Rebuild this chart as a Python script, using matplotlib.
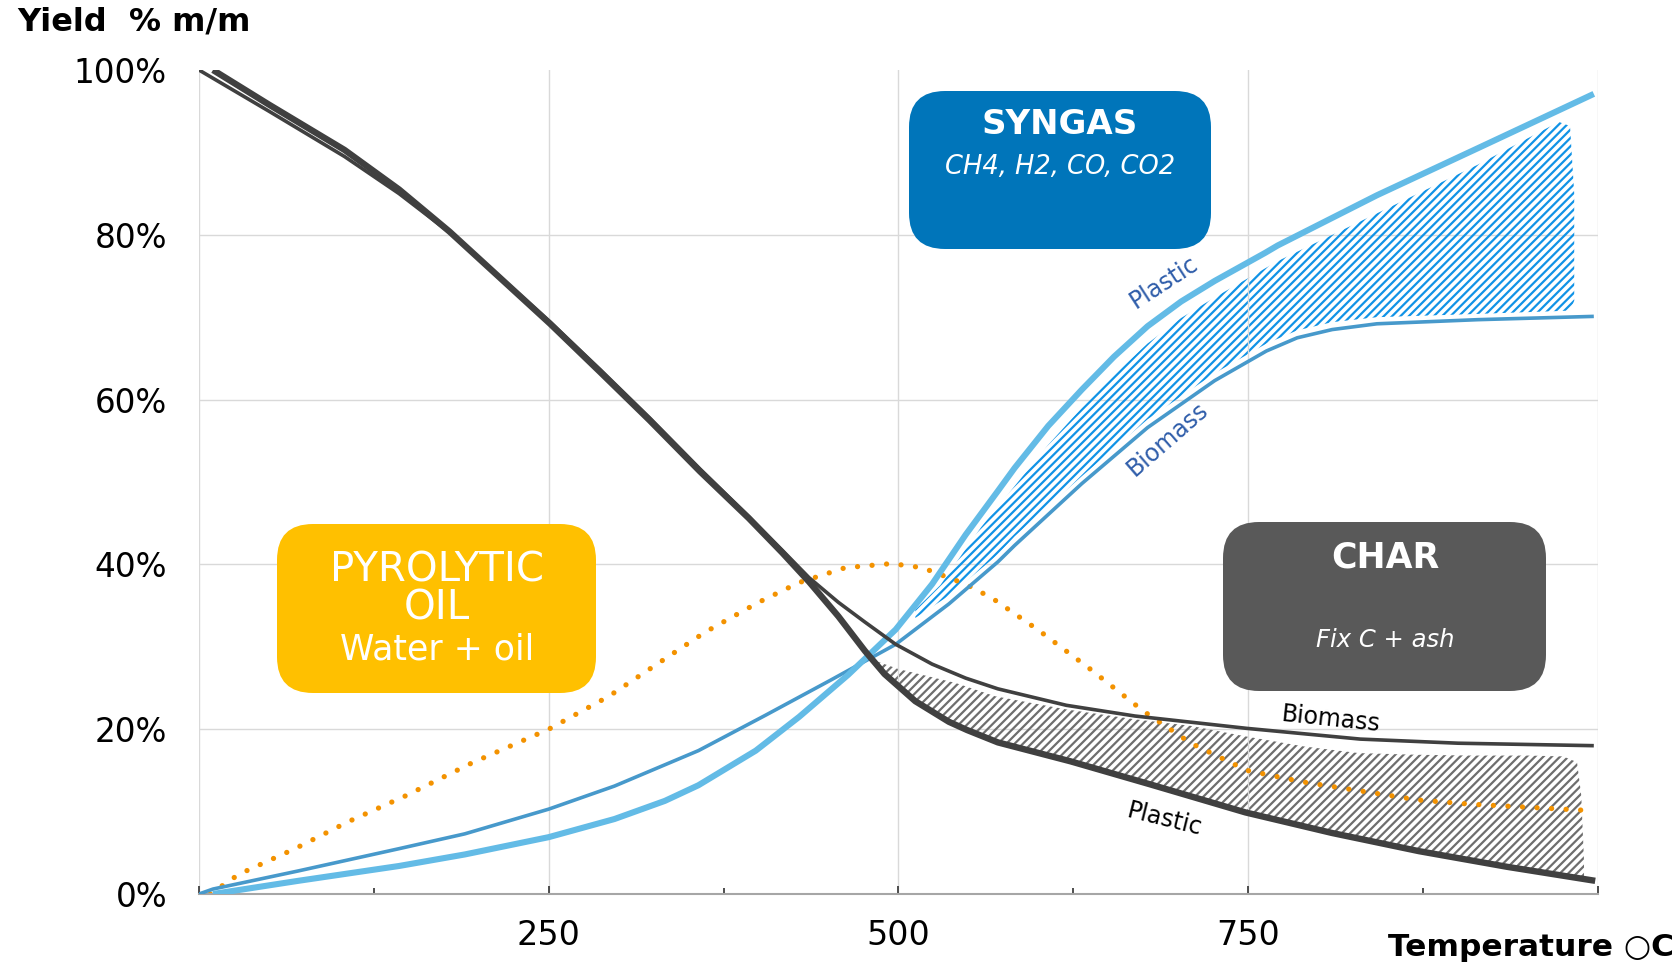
import numpy as np
import matplotlib
matplotlib.use("Agg")
import matplotlib.pyplot as plt
from matplotlib.patches import FancyBboxPatch
from matplotlib.transforms import IdentityTransform

plt.rcParams['font.family'] = ['DejaVu Sans']
plt.rcParams['hatch.linewidth'] = 1.6

# temperature (C) / yield (%)
char_plastic_t = [10, 50, 104, 143, 179, 215, 251, 287, 322, 358, 393, 417, 436, 457, 476, 490, 512, 536, 549,
                  571, 623, 680, 748, 810, 872, 935, 998]
char_plastic_y = [100, 95.8, 90.3, 85.5, 80.4, 74.8, 69.2, 63.3, 57.5, 51.3, 45.6, 41.4, 37.9, 33.7, 29.5, 26.7,
                  23.4, 20.9, 19.9, 18.4, 16.1, 13.3, 9.9, 7.4, 5.2, 3.3, 1.6]

char_biomass_t = [0, 50, 104, 143, 179, 215, 251, 287, 322, 358, 393, 417, 436, 457, 476, 498, 524, 548, 571,
                  620, 669, 749, 830, 900, 997]
char_biomass_y = [100, 95, 89.5, 85, 80.3, 74.9, 69.4, 63.6, 57.8, 51.6, 45.8, 41.7, 38.4, 35.4, 33, 30.3,
                  27.9, 26.2, 24.9, 22.9, 21.6, 20.1, 18.8, 18.3, 18.0]

gas_plastic_t = [10, 71, 143, 190, 250, 297, 333, 357, 398, 429, 464, 498, 524, 548, 571, 583, 607, 631, 654,
                 678, 702, 726, 762, 771, 842, 914, 997]
gas_plastic_y = [0, 1.6, 3.4, 4.8, 6.9, 9.1, 11.3, 13.2, 17.4, 21.5, 26.6, 32.1, 37.6, 43.6, 48.9, 51.7, 56.8,
                 61.2, 65.2, 68.9, 71.9, 74.4, 77.8, 78.7, 84.8, 90.5, 97.1]

gas_biomass_t = [0, 10, 71, 143, 190, 250, 297, 357, 405, 452, 498, 536, 571, 583, 631, 678, 726, 763, 785,
                 810, 842, 914, 997]
gas_biomass_y = [0, 0.6, 2.8, 5.5, 7.3, 10.3, 13.1, 17.4, 21.7, 26.0, 30.3, 35.2, 40.3, 42.3, 49.8, 56.6, 62.3,
                 65.9, 67.5, 68.5, 69.2, 69.7, 70.1]

oil_t = [8, 28.6, 68.6, 107, 147.5, 195, 250, 293, 338, 362, 400, 429, 462, 495, 517, 548, 567, 601, 637, 675,
         709, 749, 789, 872, 909, 997]
oil_y = [0, 2.4, 5.5, 8.8, 11.9, 15.9, 20, 24, 29.1, 31.8, 35.4, 37.8, 39.6, 40.1, 39.6, 37.6, 35.9, 31.9, 27.3,
         22.2, 18.3, 15.0, 13.6, 11.4, 10.9, 10.1]

# hatched bands
char_band_top_t = [485, 500, 541, 569, 620, 669, 709, 749, 790, 829, 870, 909, 950, 975, 985, 988, 990]
char_band_top_y = [28.2, 27.3, 25.6, 24.0, 22.4, 21.2, 20.4, 19.1, 17.9, 17.1, 16.9, 16.8, 16.8, 16.7, 16.0, 12, 4]
char_band_bot_t = [990, 935, 872, 810, 748, 680, 623, 571, 549, 536, 512, 490, 485]
char_band_bot_y = [2.0, 3.3, 5.2, 7.4, 9.9, 13.3, 16.1, 18.4, 19.9, 20.9, 23.4, 26.7, 27.5]

gas_band_top_t = [512, 530, 559, 583, 607, 631, 654, 678, 702, 726, 771, 842, 914, 972, 980, 983, 983, 980]
gas_band_top_y = [34.5, 37.5, 44.5, 49.5, 54.5, 59, 63, 66.8, 69.9, 72.4, 76.8, 82.6, 88.5, 93.7, 93.2, 85, 72, 70.8]
gas_band_bot_t = [914, 842, 810, 785, 763, 726, 678, 631, 583, 571, 536, 512]
gas_band_bot_y = [70.4, 70.0, 69.4, 68.4, 66.8, 63.2, 57.6, 50.7, 43.4, 41.2, 36.2, 33.5]

x_major = [0, 250, 500, 750, 1000]
x_labels = ['', '250', '500', '750', '']
x_minor = [125, 375, 625, 875]
y_ticks = [0, 20, 40, 60, 80, 100]
y_labels = ['0%', '20%', '40%', '60%', '80%', '100%']

W, H = 1681, 963
fig = plt.figure(figsize=(W / 100, H / 100), dpi=100)
ax = fig.add_axes([199 / W, (H - 894) / H, (1598 - 199) / W, (894 - 70) / H])
ax.set_xlim(0, 1000)
ax.set_ylim(0, 100)

for s in ['top', 'left', 'right']:
    ax.spines[s].set_visible(False)
ax.spines['bottom'].set_color('#A6A6A6')
ax.spines['bottom'].set_linewidth(1.5)

ax.set_xticks(x_major)
ax.set_xticklabels(x_labels)
ax.set_xticks(x_minor, minor=True)
ax.tick_params(axis='x', which='major', direction='in', length=6, width=1.3, color='#404040',
               labelsize=24, pad=18)
ax.tick_params(axis='x', which='minor', direction='in', length=4.5, width=1.3, color='#404040')
ax.set_yticks(y_ticks)
ax.set_yticklabels(y_labels)
ax.tick_params(axis='y', length=0, labelsize=23.5, pad=23)
ax.grid(axis='x', which='major', color='#D9D9D9', lw=1)
for lev in y_ticks[1:-1]:
    ax.axhline(lev, color='#D9D9D9', lw=1, zorder=0.5)

# hatched bands
ax.fill(char_band_top_t + char_band_bot_t, char_band_top_y + char_band_bot_y,
        facecolor='none', edgecolor='#6E6E6E', hatch='////', linewidth=0, zorder=1)
ax.fill(gas_band_top_t + gas_band_bot_t, gas_band_top_y + gas_band_bot_y,
        facecolor='none', edgecolor='#1193E6', hatch='////', linewidth=0, zorder=1)

ax.plot(oil_t, oil_y, color='#F39200', lw=3.8, linestyle=(0, (0.01, 2.75)),
        dash_capstyle='round', zorder=2)
ax.plot(gas_biomass_t, gas_biomass_y, color='#4799CB', lw=2.6, zorder=3, solid_capstyle='butt')
ax.plot(gas_plastic_t, gas_plastic_y, color='#63BBE6', lw=4.4, zorder=3, solid_capstyle='butt')
ax.plot(char_biomass_t, char_biomass_y, color='#404040', lw=2.6, zorder=4, solid_capstyle='butt')
ax.plot(char_plastic_t, char_plastic_y, color='#404040', lw=4.6, zorder=4, solid_capstyle='butt')

# curve labels
ax.text(690, 74.2, 'Plastic', color='#2F5DAA', fontsize=17, rotation=33,
        ha='center', va='center', rotation_mode='anchor')
ax.text(692, 55.2, 'Biomass', color='#2F5DAA', fontsize=17, rotation=41,
        ha='center', va='center', rotation_mode='anchor')
ax.text(809, 21.2, 'Biomass', color='black', fontsize=17, rotation=-6,
        ha='center', va='center', rotation_mode='anchor')
ax.text(690, 9.1, 'Plastic', color='black', fontsize=17, rotation=-14,
        ha='center', va='center', rotation_mode='anchor')

# rounded boxes (pixel coordinates)
boxes = [(909, 91, 1211, 249, '#0075BA'),
         (277, 524, 596, 693, '#FFC000'),
         (1223, 522, 1546, 691, '#595959')]
for x0, yt, x1, yb, col in boxes:
    fig.add_artist(FancyBboxPatch((x0, H - yb), x1 - x0, yb - yt,
                                  boxstyle='round,pad=0,rounding_size=36',
                                  facecolor=col, edgecolor='none',
                                  transform=IdentityTransform(), zorder=5))


def ftext(x, y, s, **kw):
    fig.text(x / W, 1 - y / H, s, ha='center', va='center', color='white', zorder=6, **kw)


ftext(1060, 124, 'SYNGAS', fontsize=24.5, fontweight='bold')
ftext(1060, 167, 'CH4, H2, CO, CO2', fontsize=18.5, fontstyle='italic')
ftext(437, 570, 'PYROLYTIC', fontsize=29)
ftext(437, 609, 'OIL', fontsize=29)
ftext(437, 649, 'Water + oil', fontsize=25)
ftext(1385, 557, 'CHAR', fontsize=25, fontweight='bold')
ftext(1385, 640, 'Fix C + ash', fontsize=17.5, fontstyle='italic')

fig.text(17 / W, 1 - 22 / H, 'Yield  % m/m', ha='left', va='center', fontsize=23, fontweight='bold')
fig.text(1674 / W, 1 - 947 / H, 'Temperature \u25cbC', ha='right', va='center', fontsize=22.5,
         fontweight='bold')

fig.savefig('out.png', dpi=100)
